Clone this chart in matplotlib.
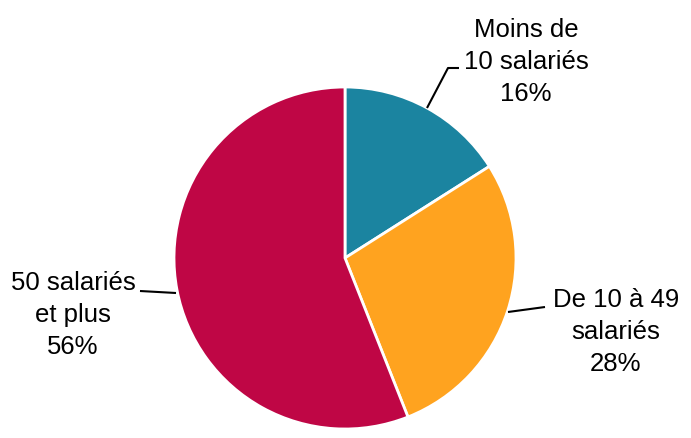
import matplotlib
matplotlib.use("Agg")
import matplotlib.pyplot as plt

categories = ["Moins de\n10 salariés", "De 10 à 49\nsalariés", "50 salariés\net plus"]
values = [16, 28, 56]
colors = ["#1b84a0", "#ffa31f", "#bf0645"]

W, H = 691, 438
fig = plt.figure(figsize=(W / 100, H / 100), dpi=100)
ax = fig.add_axes([0, 0, 1, 1])

cx, cy, r = 345, H - 258, 171
ax.pie(values, colors=colors, startangle=90, counterclock=False,
       center=(cx, cy), radius=r, frame=True,
       wedgeprops=dict(edgecolor="white", linewidth=2))
ax.set_xlim(0, W)
ax.set_ylim(0, H)
ax.set_aspect("equal")
ax.axis("off")

# label positions (center x, first baseline y) in pixel coords
label_pos = [(526, 37), (616, 307), (73, 290)]
leaders = [[(427, 108), (448, 68), (459, 68)],
           [(508, 312), (545, 307)],
           [(176, 293), (140, 291)]]
line_gap = 32
for cat, v, (lx, ly), ld in zip(categories, values, label_pos, leaders):
    lines = cat.split("\n") + [f"{v}%"]
    for i, t in enumerate(lines):
        ax.text(lx, H - (ly + i * line_gap), t, ha="center", va="baseline",
                fontsize=18.5, family="Liberation Sans", color="black")
    xs = [p[0] for p in ld]
    ys = [H - p[1] for p in ld]
    ax.plot(xs, ys, color="black", lw=1.5, solid_capstyle="butt")

fig.savefig("out.png", dpi=100)
